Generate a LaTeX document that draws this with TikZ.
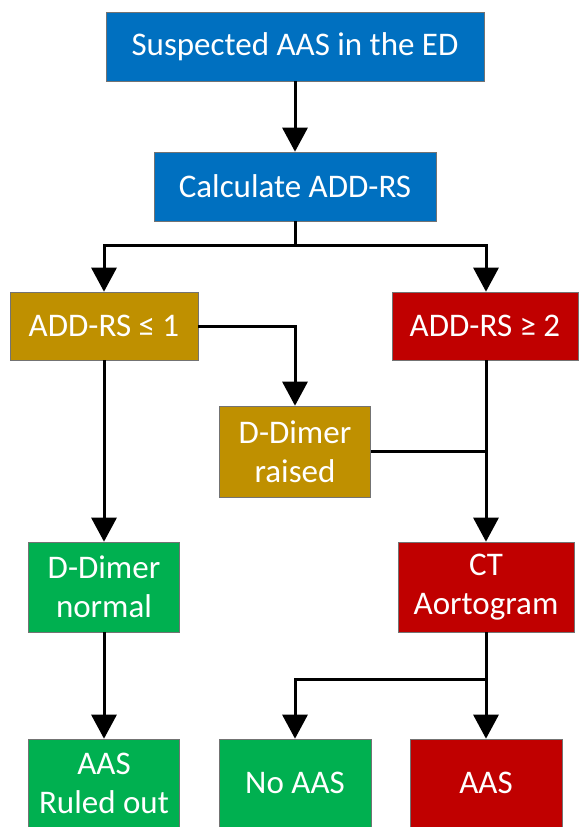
\documentclass[tikz,border=0pt]{standalone}
\usepackage{fontspec}
\setmainfont{Carlito}
\usetikzlibrary{arrows.meta, positioning}
\definecolor{boxblue}{RGB}{0, 112, 192}
\definecolor{boxgold}{RGB}{191, 144, 0}
\definecolor{boxred}{RGB}{192, 0, 0}
\definecolor{boxgreen}{RGB}{0, 176, 80}

\begin{document}
\begin{tikzpicture}[x=1pt, y=-1pt, >={Triangle[width=25pt,length=24pt]},
    box/.style={draw=black!55, line width=0.6pt, text=white, align=center, inner sep=0pt,
      font=\fontsize{33}{39}\selectfont},
    link/.style={line width=3pt}]
  \useasboundingbox (0,0) rectangle (579,827);
  % Step 1: entry and score
  \node[box, fill=boxblue, minimum width=378pt, minimum height=69pt] (suspect) at (295,46.5) {Suspected AAS in the ED};
  \node[box, fill=boxblue, minimum width=282pt, minimum height=69pt] (calc) at (295,186.5) {Calculate ADD-RS};
  % Step 2: low and high risk
  \node[box, fill=boxgold, minimum width=188pt, minimum height=68pt] (low)  at (104,326) {ADD-RS ≤ 1};
  \node[box, fill=boxred,  minimum width=186pt, minimum height=68pt] (high) at (485,326) {ADD-RS ≥ 2};
  \node[box, fill=boxgold, minimum width=151pt, minimum height=91pt] (raised) at (295,451.5) {D-Dimer\\raised};
  % Step 3: tests
  \node[box, fill=boxgreen, minimum width=151pt, minimum height=90pt] (normal) at (104,587) {D-Dimer\\normal};
  \node[box, fill=boxred,   minimum width=176pt, minimum height=90pt] (ct)     at (486,587) {CT\\Aortogram};
  % Step 4: outcomes
  \node[box, fill=boxgreen, minimum width=151pt, minimum height=88pt] (ruled) at (104,783) {AAS\\Ruled out};
  \node[box, fill=boxgreen, minimum width=152pt, minimum height=88pt] (noaas) at (295,783) {No AAS};
  \node[box, fill=boxred,   minimum width=152pt, minimum height=88pt] (aas)   at (486,783) {AAS};
  \coordinate (split1) at (295,245);
  \coordinate (split2) at (486,679);
  \draw[->,link] (suspect) -- (calc);
  \draw[link] (calc.south) -- (split1);
  \draw[->,link] (split1) -| (low.north);
  \draw[->,link] (split1) -| (high.north -| ct.north);
  \draw[->,link] (low.east) -| (raised.north);
  \draw[->,link] (low.south) -- (normal.north);
  \draw[->,link] (high.south -| ct.north) -- (ct.north);
  \draw[link] (raised.east) -- (raised.east -| ct.north);
  \draw[->,link] (normal) -- (ruled);
  \draw[->,link] (ct.south) -- (aas.north);
  \draw[->,link] (split2) -| (noaas.north);
\end{tikzpicture}
\end{document}
